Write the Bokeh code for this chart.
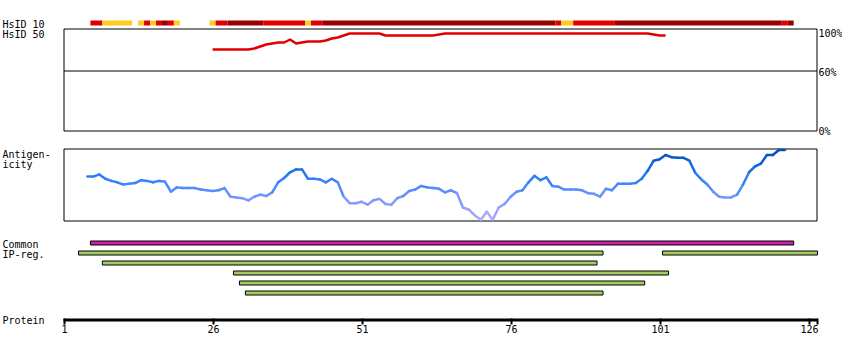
from bokeh.plotting import figure
from bokeh.models import Range1d, FixedTicker, Label, ColumnDataSource
from bokeh.embed import file_html
from bokeh.resources import INLINE

# ---------------- data ----------------
protein_length = 127
tick_positions = [1, 26, 51, 76, 101, 126]

# HsID 10 identity track (runs of residues, level)
hs10_start = [6, 8, 14, 15, 16, 17, 18, 19, 20, 26, 27, 29, 35, 42, 43, 45, 84, 85, 87, 94, 122, 123]
hs10_end = [7, 12, 14, 15, 16, 17, 18, 19, 20, 26, 28, 34, 41, 42, 44, 83, 84, 86, 93, 121, 122, 123]
hs10_level = ["mid", "low", "low", "mid", "low", "mid", "high", "mid", "low", "low", "mid", "high",
              "mid", "low", "mid", "high", "mid", "low", "mid", "high", "mid", "high"]

# HsID 50 identity (%), residues 26..102
hs50_residues = list(range(26, 103))
hs50_identity = [81, 81, 81, 81, 81, 81, 81, 82, 84, 86, 87, 88, 88, 91, 87, 88, 89, 89, 89, 90,
                 92, 93, 95, 97, 97, 97, 97, 97, 97, 95, 95, 95, 95, 95, 95, 95, 95, 95, 96, 97,
                 97, 97, 97, 97, 97, 97, 97, 97, 97, 97, 97, 97, 97, 97, 97, 97, 97, 97, 97, 97,
                 97, 97, 97, 97, 97, 97, 97, 97, 97, 97, 97, 97, 97, 97, 96, 95, 95]
pct_ticks = [100, 60, 0]
pct_labels = ["100%", "60%", "0%"]

# Antigenicity score (0 = low, 1 = high), residues 5..122
antigen_residues = list(range(5, 123))
antigen_score = [0.61, 0.61, 0.64, 0.58, 0.55, 0.53, 0.50, 0.51, 0.52, 0.56,
                 0.55, 0.53, 0.55, 0.54, 0.40, 0.46, 0.45, 0.45, 0.45, 0.43,
                 0.42, 0.41, 0.42, 0.45, 0.33, 0.32, 0.31, 0.28, 0.33, 0.36,
                 0.34, 0.39, 0.53, 0.59, 0.67, 0.71, 0.71, 0.58, 0.58, 0.57,
                 0.53, 0.58, 0.53, 0.33, 0.24, 0.24, 0.26, 0.22, 0.28, 0.30,
                 0.23, 0.22, 0.31, 0.34, 0.41, 0.43, 0.48, 0.46, 0.45, 0.44,
                 0.39, 0.42, 0.38, 0.18, 0.15, 0.07, 0.01, 0.12, 0.01, 0.18,
                 0.23, 0.33, 0.40, 0.42, 0.53, 0.62, 0.56, 0.60, 0.48, 0.47,
                 0.43, 0.43, 0.43, 0.42, 0.38, 0.37, 0.33, 0.44, 0.42, 0.51,
                 0.51, 0.51, 0.52, 0.58, 0.69, 0.83, 0.85, 0.91, 0.88, 0.87,
                 0.87, 0.83, 0.66, 0.57, 0.50, 0.40, 0.33, 0.32, 0.32, 0.36,
                 0.50, 0.67, 0.75, 0.79, 0.91, 0.91, 0.98, 0.98]

# Common and IP regions
common_start = [6]
common_end = [123]
ipreg_start = [4, 102, 8, 30, 31, 32]
ipreg_end = [91, 127, 90, 102, 98, 91]
ipreg_row = [0, 0, 1, 2, 3, 4]

# ---------------- layout / style ----------------
FONT = "DejaVu Sans Mono"
FS = "10px"
PX_PER_RES = 5.96
X_RES1 = 64.0          # canvas x of residue 1 tick


def u(px):             # canvas x pixel -> residue coordinate (frame placement)
    return 1 + (px - X_RES1) / PX_PER_RES


BLK_L, BLK_R = 0.65, 0.35   # residue block extents
CENTER = -0.15
TXT_DY = -3                 # baseline correction for labels

level_colors = {"low": "#ffcc22", "mid": "#e00000", "high": "#990000"}

W, H = 842, 352
FRAME_BOTTOM = 324
p = figure(width=W, height=H, output_backend="svg", toolbar_location=None,
           x_range=Range1d(u(0), u(W)), y_range=Range1d(FRAME_BOTTOM, 0),
           min_border_left=0, min_border_right=0, min_border_top=0,
           min_border_bottom=H - FRAME_BOTTOM, y_axis_location=None, title=None)
p.outline_line_color = None
p.xgrid.visible = False
p.ygrid.visible = False
p.background_fill_color = "white"
p.border_fill_color = "white"

box_l, box_r = u(63.5), u(816.5)

# HsID 10 bar
p.quad(left=[s - BLK_L for s in hs10_start], right=[e + BLK_R for e in hs10_end],
       top=20, bottom=25, fill_color=[level_colors[l] for l in hs10_level], line_color=None)

# HsID 50 box
HS_ZERO = 130.0
p.quad(left=box_l, right=box_r, top=28.5, bottom=HS_ZERO + 0.5, fill_color=None,
       line_color="black", line_width=1)
p.segment(x0=box_l, x1=box_r, y0=HS_ZERO - 60 + 0.5, y1=HS_ZERO - 60 + 0.5,
          line_color="black", line_width=1)
p.line(x=[r + CENTER for r in hs50_residues], y=[HS_ZERO - v for v in hs50_identity],
       line_color="#e00000", line_width=2.5)

# Antigenicity box
AG_ZERO, AG_H = 220.0, 72.0
p.quad(left=box_l, right=box_r, top=148.5, bottom=AG_ZERO + 0.5, fill_color=None,
       line_color="black", line_width=1)

stops = [(0.0, (180, 168, 255)), (0.2, (150, 158, 255)), (0.35, (110, 148, 255)),
         (0.5, (64, 134, 255)), (0.65, (40, 120, 245)), (0.8, (14, 98, 215)), (1.0, (0, 80, 176))]


def ag_color(s):
    for (a, ca), (b, cb) in zip(stops[:-1], stops[1:]):
        if s <= b:
            t = (s - a) / (b - a)
            c = [round(ca[i] + (cb[i] - ca[i]) * t) for i in range(3)]
            return "#%02x%02x%02x" % tuple(c)
    return "#%02x%02x%02x" % stops[-1][1]


ax = [r + CENTER for r in antigen_residues]
ay = [AG_ZERO - AG_H * s for s in antigen_score]
seg = ColumnDataSource(dict(x0=ax[:-1], x1=ax[1:], y0=ay[:-1], y1=ay[1:],
                            c=[ag_color((a + b) / 2) for a, b in zip(antigen_score[:-1], antigen_score[1:])]))
p.segment(x0="x0", y0="y0", x1="x1", y1="y1", source=seg, line_color="c",
          line_width=2.5, line_cap="round")

# Common region and IP regions
p.quad(left=[s - BLK_L for s in common_start], right=[e + BLK_R for e in common_end],
       top=240.5, bottom=244.5, fill_color="#cc22aa", line_color="black", line_width=1)
p.quad(left=[s - BLK_L for s in ipreg_start], right=[e + BLK_R for e in ipreg_end],
       top=[250.5 + 10 * r for r in ipreg_row], bottom=[254.5 + 10 * r for r in ipreg_row],
       fill_color="#a2cc62", line_color="black", line_width=1)

# Protein axis (thick line + ticks)
p.segment(x0=u(63), x1=protein_length + BLK_R, y0=319.5, y1=319.5, line_color="black",
          line_width=3, line_cap="butt")
xa = p.xaxis[0]
end_tick = round(protein_length + 0.3, 1)
xa.ticker = FixedTicker(ticks=tick_positions + [end_tick])
xa.major_label_overrides = {end_tick: ""}
xa.minor_tick_line_color = None
xa.axis_line_color = None
xa.major_tick_line_color = "black"
xa.major_tick_line_width = 2
xa.major_tick_in = 6
xa.major_tick_out = 0
xa.major_label_standoff = 0
xa.major_label_text_font = FONT
xa.major_label_text_font_size = FS
xa.major_label_text_color = "black"

# Left labels
left_x = u(2)
for txt, y in [("HsID 10", 27), ("HsID 50", 37), ("Antigen-", 157), ("icity", 167),
               ("Common", 247), ("IP-reg.", 257), ("Protein", 323)]:
    p.add_layout(Label(x=left_x, y=y + TXT_DY, text=txt, text_font=FONT, text_font_size=FS,
                       text_color="black", text_baseline="alphabetic", text_align="left"))

# Percent labels
for v, txt in zip(pct_ticks, pct_labels):
    p.add_layout(Label(x=u(818), y=HS_ZERO - 0.973 * v + 3.6 + TXT_DY, text=txt, text_font=FONT,
                       text_font_size=FS, text_color="black", text_baseline="alphabetic",
                       text_align="left"))

open("out.html", "w").write(file_html(p, INLINE))
